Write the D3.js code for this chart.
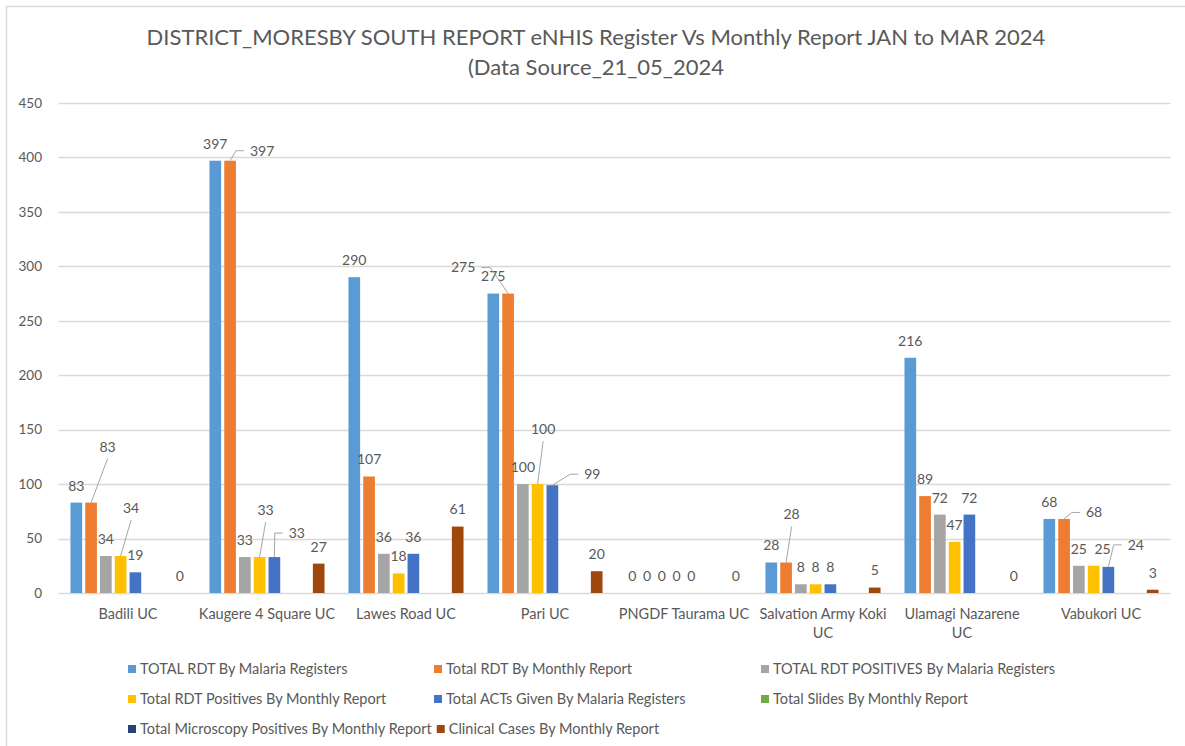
<!DOCTYPE html>
<html>
<head>
<meta charset="utf-8">
<script src="https://cdn.jsdelivr.net/npm/d3@7"></script>
<style>
  body { margin: 0; background: #fff; }
  text { font-family: Lato, "Liberation Sans", sans-serif; fill: #595959; }
</style>
</head>
<body>
<div id="chart"></div>
<script>
// chart values
var categories = ["Badili UC", "Kaugere 4 Square UC", "Lawes Road UC", "Pari UC",
  "PNGDF Taurama UC", "Salvation Army Koki UC", "Ulamagi Nazarene UC", "Vabukori UC"];
var seriesNames = ["TOTAL RDT By Malaria Registers", "Total RDT By Monthly Report",
  "TOTAL RDT POSITIVES By Malaria Registers", "Total RDT Positives By Monthly Report",
  "Total ACTs Given By Malaria Registers", "Total Slides By Monthly Report",
  "Total Microscopy Positives By Monthly Report", "Clinical Cases By Monthly Report"];
var totalRdtRegisters = [83, 397, 290, 275, 0, 28, 216, 68];
var totalRdtMonthly = [83, 397, 107, 275, 0, 28, 89, 68];
var rdtPositivesRegisters = [34, 33, 36, 100, 0, 8, 72, 25];
var rdtPositivesMonthly = [34, 33, 18, 100, 0, 8, 47, 25];
var actsGivenRegisters = [19, 33, 36, 99, 0, 8, 72, 24];
var slidesMonthly = [null, null, null, null, null, null, null, null];
var microscopyPositivesMonthly = [null, null, null, null, null, null, null, null];
var clinicalCasesMonthly = [0, 27, 61, 20, 0, 5, 0, 3];
var yTicks = [0, 50, 100, 150, 200, 250, 300, 350, 400, 450];

var seriesValues = [totalRdtRegisters, totalRdtMonthly, rdtPositivesRegisters, rdtPositivesMonthly,
  actsGivenRegisters, slidesMonthly, microscopyPositivesMonthly, clinicalCasesMonthly];
var colors = ["#5B9BD5", "#ED7D31", "#A5A5A5", "#FFC000", "#4472C4", "#70AD47", "#264478", "#9E480E"];

// labels that were dragged away from their bar in the original (category-series)
var labelMoves = {
  "0-1": {dx: 16.5, dy: -39, leader: "straight"},
  "0-3": {dx: 10.5, dy: -31, leader: "straight"},
  "1-1": {dx: 32, dy: 7, leader: "right"},
  "1-3": {dx: 6, dy: -30, leader: "straight"},
  "1-4": {dx: 22.5, dy: -7, leader: "right"},
  "3-1": {dx: -45, dy: -9, leader: "left"},
  "3-3": {dx: 5.5, dy: -38, leader: "straight"},
  "3-4": {dx: 40, dy: 6, leader: "right"},
  "5-1": {dx: 5.5, dy: -31, leader: "straight"},
  "7-1": {dx: 30, dy: 10.5, leader: "right"},
  "7-3": {dx: 9, dy: 0, leader: "none"},
  "7-4": {dx: 27.5, dy: -5, leader: "right"}
};

var width = 1185, height = 746;
var svg = d3.select("#chart").append("svg")
  .attr("width", width)
  .attr("height", height);

svg.append("rect")
  .attr("x", 6.5).attr("y", 6.5)
  .attr("width", width + 10).attr("height", height + 10)
  .attr("fill", "#fff")
  .attr("stroke", "#D9D9D9")
  .attr("stroke-width", 1.5);

var title = svg.append("text")
  .attr("text-anchor", "middle")
  .style("font-size", "22px");
title.append("tspan").attr("x", 596).attr("y", 45)
  .text("DISTRICT_MORESBY SOUTH REPORT eNHIS Register Vs Monthly Report JAN to MAR 2024");
title.append("tspan").attr("x", 596).attr("y", 75)
  .text("(Data Source_21_05_2024");

var x0 = d3.scaleBand().domain(categories).range([58.5, 1170.5]);
var x1 = d3.scaleBand().domain(d3.range(seriesNames.length))
  .range([10.5, x0.bandwidth() - 10.5])
  .paddingInner(0.21).paddingOuter(0.1);
var y = d3.scaleLinear().domain([0, 450]).range([593, 103]);

// grid
svg.append("g")
  .selectAll("line")
  .data(yTicks).enter().append("line")
  .attr("x1", 58.5).attr("x2", 1170.5)
  .attr("y1", function(d){ return Math.round(y(d)) + 0.5; })
  .attr("y2", function(d){ return Math.round(y(d)) + 0.5; })
  .attr("stroke", "#D9D9D9")
  .attr("stroke-width", 1.3);

var yAxis = svg.append("g")
  .attr("transform", "translate(58.5,0)")
  .call(d3.axisLeft(y).tickValues(yTicks).tickSize(0).tickPadding(16.5));
yAxis.select(".domain").remove();
yAxis.selectAll("text").style("font-size", "13.5px").attr("fill", "#595959");

// bars
var flat = [];
seriesValues.forEach(function(vals, s){
  vals.forEach(function(v, c){
    if (v !== null) flat.push({c: c, s: s, value: v});
  });
});

var g = svg.append("g");
g.selectAll("rect")
  .data(flat).enter().append("rect")
  .attr("x", function(d){ return x0(categories[d.c]) + x1(d.s); })
  .attr("y", function(d){ return y(d.value); })
  .attr("width", x1.bandwidth())
  .attr("height", function(d){ return y(0) - y(d.value); })
  .attr("fill", function(d){ return colors[d.s]; });

// data labels + leader lines
var labels = svg.append("g");
flat.forEach(function(d){
  var bx = x0(categories[d.c]) + x1(d.s) + x1.bandwidth() / 2;
  var by = y(d.value);
  var mv = labelMoves[d.c + "-" + d.s] || {dx: 0, dy: 0, leader: "none"};
  var lx = bx + mv.dx, ly = by - 17 + mv.dy;
  var t = labels.append("text")
    .attr("x", lx).attr("y", ly)
    .attr("dy", "0.35em")
    .attr("text-anchor", "middle")
    .style("font-size", "14px")
    .text(d.value);
  var w = t.node().getComputedTextLength();
  var pts = null;
  if (mv.leader === "straight") {
    pts = [[bx, by], [lx, ly + 12]];
  } else if (mv.leader === "right") {
    var end = lx - w / 2 - 6;
    pts = [[bx, by], [Math.max(bx, end - 8), ly], [end, ly]];
  } else if (mv.leader === "left") {
    var endL = lx + w / 2 + 6;
    pts = [[bx, by], [endL + 9, ly], [endL, ly]];
  }
  if (pts) {
    labels.append("path")
      .attr("d", d3.line()(pts))
      .attr("fill", "none")
      .attr("stroke", "#A6A6A6")
      .attr("stroke-width", 1);
  }
});

// category labels, long ones go onto two lines
var xAxis = svg.append("g");
categories.forEach(function(name){
  var cx = x0(name) + x0.bandwidth() / 2;
  var t = xAxis.append("text")
    .attr("x", cx).attr("y", 619)
    .attr("text-anchor", "middle")
    .style("font-size", "14.5px")
    .text(name);
  if (t.node().getComputedTextLength() > 137.5) {
    var words = name.split(" ");
    var last = words.pop();
    t.text(words.join(" "));
    xAxis.append("text")
      .attr("x", cx).attr("y", 638)
      .attr("text-anchor", "middle")
      .style("font-size", "14.5px")
      .text(last);
  }
});

// legend, three columns, an entry is pushed right if the one before it runs long
var legendCols = [128, 434, 761];
var legendRows = [669, 699, 729];
var legend = svg.append("g");
var prevEnd = 0;
seriesNames.forEach(function(name, i){
  var col = i % 3, ly = legendRows[Math.floor(i / 3)];
  var lx = col === 0 ? legendCols[0] : Math.max(legendCols[col], prevEnd + 5);
  legend.append("rect")
    .attr("x", lx).attr("y", ly - 4)
    .attr("width", 8).attr("height", 8)
    .attr("fill", colors[i]);
  var t = legend.append("text")
    .attr("x", lx + 12).attr("y", ly)
    .attr("dy", "0.35em")
    .style("font-size", "14.5px")
    .text(name);
  prevEnd = lx + 12 + t.node().getComputedTextLength();
});
</script>
</body>
</html>
